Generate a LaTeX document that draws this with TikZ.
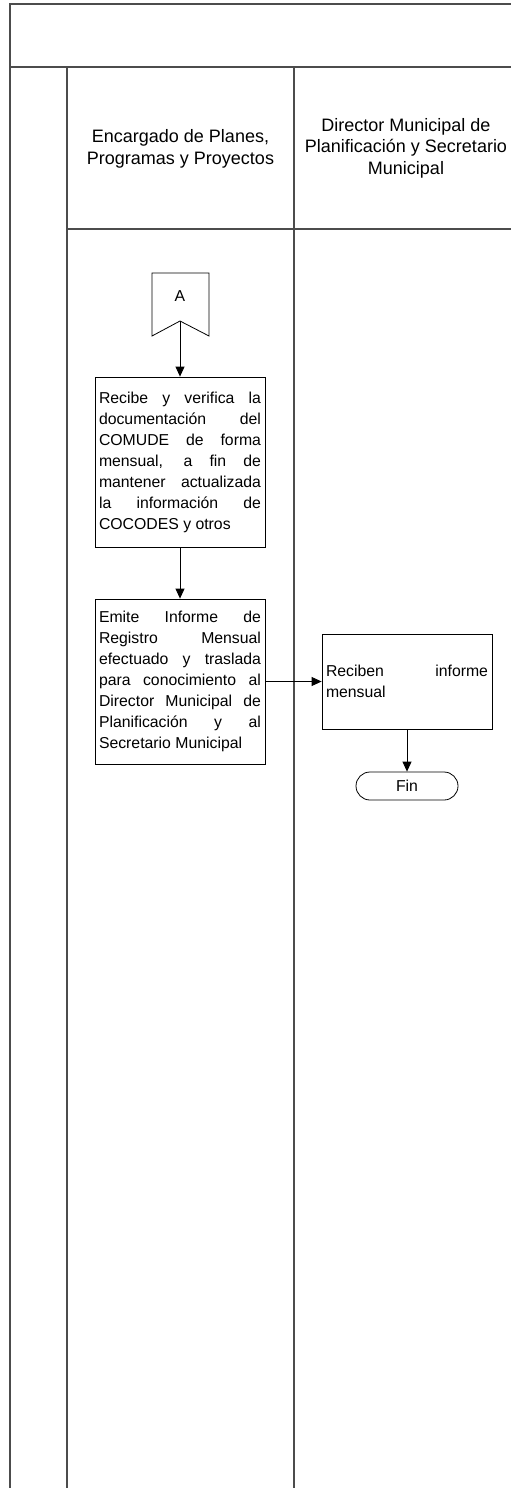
\documentclass[tikz,border=0pt]{standalone}
\usepackage{fontspec}
\setmainfont{Liberation Sans}
\usetikzlibrary{arrows.meta, positioning}
\hyphenpenalty=10000
\exhyphenpenalty=10000
\tolerance=9999

\begin{document}
\begin{tikzpicture}[
  x=1pt, y=-1pt,
  lane/.style={draw=black!70, line width=1.2pt},
  head/.style={align=center, font=\fontsize{18}{21.5}\selectfont},
  task/.style={rectangle, draw, line width=0.8pt, minimum width=170pt,
               text width=162pt, inner sep=4pt, align=justify,
               font=\fontsize{15.8}{21}\selectfont},
  term/.style={rectangle, rounded corners=14pt, draw, line width=0.8pt,
               minimum width=102pt, minimum height=28pt, inner sep=0pt,
               font=\fontsize{15.8}{21}\selectfont},
  arr/.style={-{Triangle[length=10pt, width=9pt]}, line width=0.8pt},
]
  \useasboundingbox (0,0) rectangle (511,1488);

  % swimlane frame
  \draw[lane] (10,1488) -- (10,4) -- (511,4);
  \draw[lane] (10,67) -- (511,67);
  \draw[lane] (67,1488) -- (67,67);
  \draw[lane] (294,1488) -- (294,67);
  \draw[lane] (67,229) -- (511,229);

  \node[head] (lane1) at (180.5,149) {Encargado de Planes,\\Programas y Proyectos};
  \node[head] (lane2) at (406,148)
    {Director Municipal de\\Planificación y Secretario\\Municipal};

  % off-page connector
  \draw[line width=0.8pt] (152,273) -- (209,273) -- (209,336) -- (180,321)
    -- (152,336) -- cycle;
  \node[font=\fontsize{15.8}{21}\selectfont] (conA) at (180,296) {A};
  \coordinate (conAtip) at (180,321);

  \node[task, minimum height=170pt] (recibe) at (180,462)
    {Recibe y verifica la\linebreak documentación del\linebreak COMUDE de forma\linebreak
     mensual, a fin de\linebreak mantener actualizada\linebreak la información de\linebreak
     COCODES y otros};
  \node[task, minimum height=165pt] (emite) at (180,681.5)
    {Emite Informe de\linebreak Registro Mensual\linebreak efectuado y traslada\linebreak
     para conocimiento al\linebreak Director Municipal de\linebreak Planificación y al\linebreak
     Secretario Municipal};
  \node[task, minimum height=95pt] (reciben) at (407,681.5)
    {Reciben informe\linebreak mensual};
  \node[term] (fin) at (407,786) {Fin};

  \draw[arr] (conAtip) -- (recibe.north);
  \draw[arr] (recibe.south) -- (emite.north);
  \draw[arr] (emite.east) -- (reciben.west);
  \draw[arr] (reciben.south) -- (fin.north);
\end{tikzpicture}
\end{document}
